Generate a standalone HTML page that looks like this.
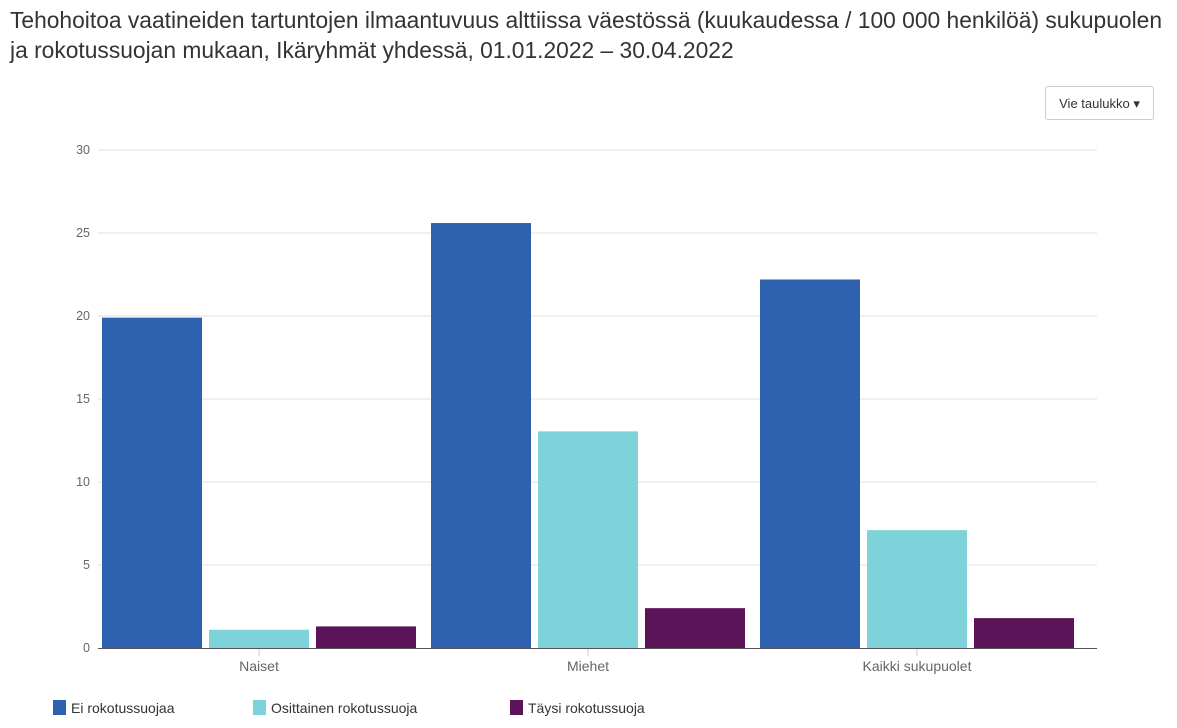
<!DOCTYPE html>
<html><head><meta charset="utf-8"><style>
body{margin:0;width:1177px;height:728px;background:#fff;font-family:"Liberation Sans",sans-serif;overflow:hidden;position:relative}
#title{position:absolute;left:10px;top:5px;font-size:22.8px;line-height:30px;color:#333;letter-spacing:0px;white-space:nowrap}
#btn{position:absolute;left:1045px;top:86px;width:109px;height:34px;border:1px solid #ccc;border-radius:3px;font-size:13px;line-height:33px;text-align:center;color:#333;box-sizing:border-box}
svg{position:absolute;left:0;top:0}
</style></head><body>
<div id="title">Tehohoitoa vaatineiden tartuntojen ilmaantuvuus alttiissa väestössä (kuukaudessa / 100 000 henkilöä) sukupuolen<br>ja rokotussuojan mukaan, Ikäryhmät yhdessä, 01.01.2022 – 30.04.2022</div>
<div id="btn">Vie taulukko ▾</div>
<svg id="chart" width="1177" height="728"></svg>
<script>
const categories=["Naiset","Miehet","Kaikki sukupuolet"];
const seriesNames=["Ei rokotussuojaa","Osittainen rokotussuoja","Täysi rokotussuoja"];
const eiValues=[19.9,25.6,22.2];
const osittainenValues=[1.1,13.05,7.1];
const taysiValues=[1.3,2.4,1.8];
const yTicks=[0,5,10,15,20,25,30];
const colors=["#2f62ae","#7dd3d9","#5a1457"];
const series=[eiValues,osittainenValues,taysiValues];
const svg=document.getElementById('chart');const NS="http://www.w3.org/2000/svg";
const x0=94.5,gw=329,gx1=98,x1=1097,yb=648,yt=150,yMax=30;
const y=v=>yb-(v/yMax)*(yb-yt);
function mk(t,a,txt){const e=document.createElementNS(NS,t);for(const k in a)e.setAttribute(k,a[k]);if(txt!=null)e.textContent=txt;svg.appendChild(e);return e;}
yTicks.forEach(t=>{
 if(t>0){const g=mk('line',{x1:gx1,x2:x1,y1:y(t),y2:y(t),stroke:'#e0e0e0','stroke-width':1});
 
 }
 const l=mk('text',{x:90,y:y(t)+4,'text-anchor':'end','font-size':12.5,fill:'#666'},t);
 
 
});
categories.forEach((c,i)=>{
 const gx=x0+i*gw;
 series.forEach((s,j)=>{
  const bx=gx+7.5+j*107;
  const r=mk('rect',{x:bx,y:y(s[i]),width:100,height:yb-y(s[i]),fill:colors[j]});
  
  
 });
 const tk=mk('line',{x1:gx+gw/2,x2:gx+gw/2,y1:yb,y2:yb+8,stroke:'#ccc'});
 
 
 const l=mk('text',{x:gx+gw/2,y:yb+23,'text-anchor':'middle','font-size':14,fill:'#666'},c);
 
 
});
const ax=mk('line',{x1:gx1,x2:x1,y1:yb+0.5,y2:yb+0.5,stroke:'#5a5060','stroke-width':1});


const lx=[53,253,510];
seriesNames.forEach((n,j)=>{
 const r=mk('rect',{x:lx[j],y:700,width:13,height:15,fill:colors[j]});
 
 
 const t=mk('text',{x:lx[j]+18,y:713,'font-size':14,fill:'#333'},n);
 
 
});
</script>
</body></html>
